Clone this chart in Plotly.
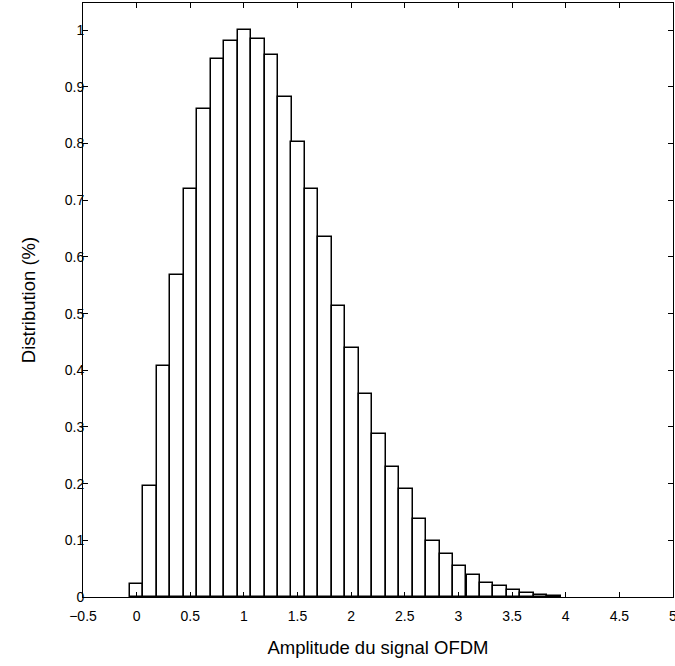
import plotly.graph_objects as go

# Histogramme de l'amplitude du signal OFDM
bin_width = 0.1255
bin_centers = [0.0, 0.126, 0.251, 0.377, 0.502, 0.628, 0.753, 0.879, 1.004, 1.130,
               1.255, 1.381, 1.506, 1.632, 1.757, 1.883, 2.008, 2.134, 2.259, 2.385,
               2.510, 2.636, 2.761, 2.887, 3.012, 3.138, 3.263, 3.389, 3.514, 3.640,
               3.765, 3.891]
distribution = [0.023, 0.196, 0.407, 0.568, 0.720, 0.861, 0.950, 0.981, 1.000, 0.984,
                0.956, 0.883, 0.803, 0.720, 0.635, 0.514, 0.439, 0.359, 0.288, 0.229,
                0.190, 0.137, 0.098, 0.076, 0.055, 0.039, 0.025, 0.019, 0.013, 0.007,
                0.003, 0.002]

x_ticks = [-0.5, 0, 0.5, 1, 1.5, 2, 2.5, 3, 3.5, 4, 4.5, 5]
y_ticks = [0, 0.1, 0.2, 0.3, 0.4, 0.5, 0.6, 0.7, 0.8, 0.9, 1]

fig = go.Figure()

fig.add_trace(go.Bar(
    x=bin_centers, y=distribution,
    width=bin_width,
    marker=dict(color='white', line=dict(color='black', width=1.5)),
    showlegend=False,
))

axis_common = dict(
    showline=True, linecolor='black', linewidth=1, mirror='ticks',
    ticks='inside', ticklen=5, tickcolor='black', tickwidth=1,
    showgrid=False, zeroline=False, automargin=False,
    ticklabeloverflow='allow',
    tickfont=dict(family='Liberation Sans, Arial', size=14, color='black'),
)

fig.update_layout(
    width=675, height=666,
    paper_bgcolor='white', plot_bgcolor='white',
    margin=dict(l=83, r=2, t=3, b=69),
    bargap=0,
    font=dict(family='Liberation Sans, Arial', color='black'),
    xaxis=dict(
        range=[-0.5, 5], tickvals=x_ticks, ticklabelstandoff=6,
        title=dict(text='Amplitude du signal OFDM', font=dict(size=18.5), standoff=18),
        **axis_common,
    ),
    yaxis=dict(
        range=[0, 1.048], tickvals=y_ticks, ticklabelstandoff=-5,
        title=dict(text='Distribution (%)', font=dict(size=18.5), standoff=24),
        **axis_common,
    ),
)

# la page par défaut a une marge de 8 px autour du graphique
fig.write_html("out.html", config={'displayModeBar': False},
               post_script="document.body.style.margin='0';document.body.style.overflow='hidden';")
